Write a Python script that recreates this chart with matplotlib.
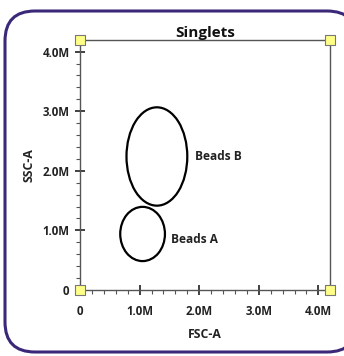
import matplotlib
matplotlib.use("Agg")
import matplotlib.pyplot as plt
import matplotlib.ticker as ticker
from matplotlib.patches import Ellipse, FancyBboxPatch

# axis range of the instrument (2^22)
AXIS_MAX = 4194304

gate_names = ["Beads B", "Beads A"]
gate_cx = [1.29e6, 1.05e6]
gate_cy = [2.24e6, 0.94e6]
gate_w = [1.02e6, 0.75e6]
gate_h = [1.65e6, 0.91e6]
label_x = [1.93e6, 1.52e6]
label_y = [2.24e6, 0.84e6]

major_ticks = [0, 1.0e6, 2.0e6, 3.0e6, 4.0e6]
tick_labels = ["0", "1.0M", "2.0M", "3.0M", "4.0M"]

FONT = "Open Sans"
plt.rcParams["font.family"] = [FONT, "DejaVu Sans"]

fig = plt.figure(figsize=(3.44, 3.56), dpi=100)

# rounded purple frame around the whole panel
bg = fig.add_axes([0, 0, 1, 1])
bg.set_xlim(0, 344)
bg.set_ylim(356, 0)
bg.axis("off")
frame = FancyBboxPatch((5, 11), 352, 341, boxstyle="round,pad=0,rounding_size=30",
                       facecolor="white", edgecolor="#3b2878", linewidth=2.2)
bg.add_patch(frame)

ax = fig.add_axes([80 / 344, 1 - 290 / 356, 250 / 344, 250 / 356])
ax.set_facecolor("none")
ax.set_xlim(0, AXIS_MAX)
ax.set_ylim(0, AXIS_MAX)

for name, cx, cy, w, h, lx, ly in zip(gate_names, gate_cx, gate_cy, gate_w, gate_h, label_x, label_y):
    ax.add_patch(Ellipse((cx, cy), w, h, fill=False, edgecolor="black", linewidth=1.6))
    ax.text(lx, ly, name, fontsize=8.6, fontweight="bold", color="#222222", va="center", ha="left")

fmt = ticker.FixedFormatter(tick_labels)
for axis in (ax.xaxis, ax.yaxis):
    axis.set_major_locator(ticker.FixedLocator(major_ticks))
    axis.set_major_formatter(fmt)
    axis.set_minor_locator(ticker.MultipleLocator(2e5))

ax.tick_params(which="major", direction="inout", length=7, width=1.3, color="#333333",
               labelsize=8.3)
ax.tick_params(axis="x", which="major", pad=7.5)
ax.tick_params(axis="y", which="major", pad=4)
ax.tick_params(which="minor", length=3, width=0.8, color="#555555")
for lab in ax.get_xticklabels() + ax.get_yticklabels():
    lab.set_fontweight("bold")
    lab.set_color("#222222")

for sp in ax.spines.values():
    sp.set_color("#555555")
    sp.set_linewidth(1.0)

ax.set_title("Singlets", fontsize=11, fontweight="bold", pad=0, color="#111111")
ax.set_xlabel("FSC-A", fontsize=8.8, fontweight="bold", labelpad=7, color="#222222")
ax.set_ylabel("SSC-A", fontsize=8.8, fontweight="bold", labelpad=5, color="#222222")

# yellow corner handles
corners_x = [0, AXIS_MAX, 0, AXIS_MAX]
corners_y = [0, 0, AXIS_MAX, AXIS_MAX]
ax.scatter(corners_x, corners_y, s=42, marker="s", facecolor="#ffff88",
           edgecolor="#777777", linewidth=0.8, zorder=5, clip_on=False)

fig.savefig("out.png", dpi=100)
